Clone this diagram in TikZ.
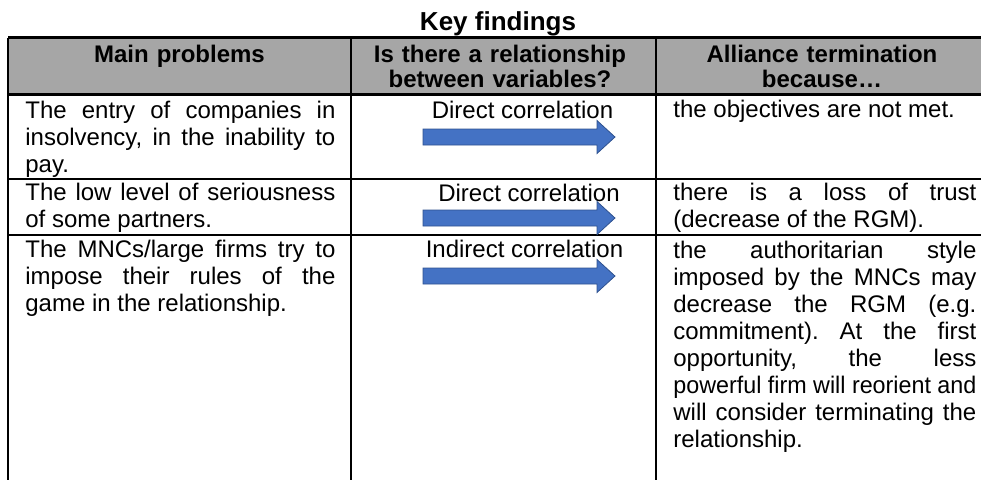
\documentclass[tikz,border=0pt]{standalone}
\usepackage{fontspec}
\setmainfont{Liberation Sans}
\usepackage{graphicx}
\usepackage{xcolor}
\usepackage{tikz}

\definecolor{hdrgray}{RGB}{166,166,166}
\definecolor{arrowblue}{RGB}{68,114,196}
\definecolor{arrowedge}{RGB}{47,82,143}

\tikzset{
    gridline/.style={draw=black, line width=1.2pt},
    celltext/.style={anchor=base west, inner sep=0pt, align=justify,
        font=\fontsize{12}{13.5}\selectfont\frenchspacing},
    hdrtext/.style={anchor=base, inner sep=0pt, align=center,
        font=\bfseries\fontsize{12}{12.5}\selectfont},
    corrtext/.style={anchor=base, inner sep=0pt,
        font=\fontsize{12}{13.5}\selectfont},
    corrarrow/.style={fill=arrowblue, draw=arrowedge, line width=0.4pt}
}

\begin{document}
\begin{tikzpicture}[x=0.5pt, y=-0.5pt]
    \useasboundingbox (0,0) rectangle (981,479);
    \clip (0,0) rectangle (981,479);

    \node[anchor=base, inner sep=0pt, font=\bfseries\fontsize{13}{14}\selectfont]
        (title) at (498,30) {Key findings};

    \filldraw[fill=hdrgray, draw=none] (8,37.5) rectangle (988,94.3);
    \draw[gridline] (8,37.5) -- (988,37.5);
    \draw[gridline] (8,94.3) -- (988,94.3);
    \draw[gridline] (8,179) -- (988,179);
    \draw[gridline] (8,235) -- (988,235);
    \draw[gridline] (8,37.5) -- (8,490);
    \draw[gridline] (351,37.5) -- (351,490);
    \draw[gridline] (656,37.5) -- (656,490);
    \draw[gridline] (988,37.5) -- (988,490);

    \node[hdrtext, text width=155pt] (hdrprob) at (179.5,62) {Main problems};
    \node[hdrtext, text width=150pt] (hdrrel) at (500,62)
        {Is there a relationship\\between variables?};
    \node[hdrtext, text width=155pt] (hdrterm) at (822,62)
        {Alliance termination\\because…};

    \node[celltext, text width=155pt] (probA) at (25,118)
        {The entry of companies in\linebreak insolvency, in the inability to\linebreak pay.};
    \node[celltext, text width=155pt] (probB) at (25,200)
        {The low level of seriousness\linebreak of some partners.};
    \node[celltext, text width=155pt] (probC) at (25,257)
        {The MNCs/large firms try to\linebreak impose their rules of the\linebreak game in the relationship.};

    \node[corrtext] (corrA) at (522.5,118) {Direct correlation};
    \node[corrtext] (corrB) at (529,201) {Direct correlation};
    \node[corrtext] (corrC) at (524.5,257) {Indirect correlation};

    \filldraw[corrarrow, shift={(0,137)}] (423,-8) -- (597,-8) -- (597,-16.5)
        -- (615,0) -- (597,16.5) -- (597,8) -- (423,8) -- cycle;
    \filldraw[corrarrow, shift={(0,218)}] (423,-8) -- (597,-8) -- (597,-16.5)
        -- (615,0) -- (597,16.5) -- (597,8) -- (423,8) -- cycle;
    \filldraw[corrarrow, shift={(0,276)}] (423,-8) -- (597,-8) -- (597,-16.5)
        -- (615,0) -- (597,16.5) -- (597,8) -- (423,8) -- cycle;

    \node[celltext, text width=151.5pt] (termA) at (673,117)
        {the objectives are not met.};
    \node[celltext, text width=151.5pt] (termB) at (673,200)
        {there is a loss of trust\linebreak (decrease of the RGM).};
    \node[celltext, text width=151.5pt] (termC) at (673,258)
        {the authoritarian style\linebreak imposed by the MNCs may\linebreak
        decrease the RGM (e.g.\linebreak commitment). At the first\linebreak
        opportunity, the less\linebreak
        \resizebox{\linewidth}{\height}{powerful firm will reorient and}\linebreak
        will consider terminating the\linebreak relationship.};
\end{tikzpicture}
\end{document}
